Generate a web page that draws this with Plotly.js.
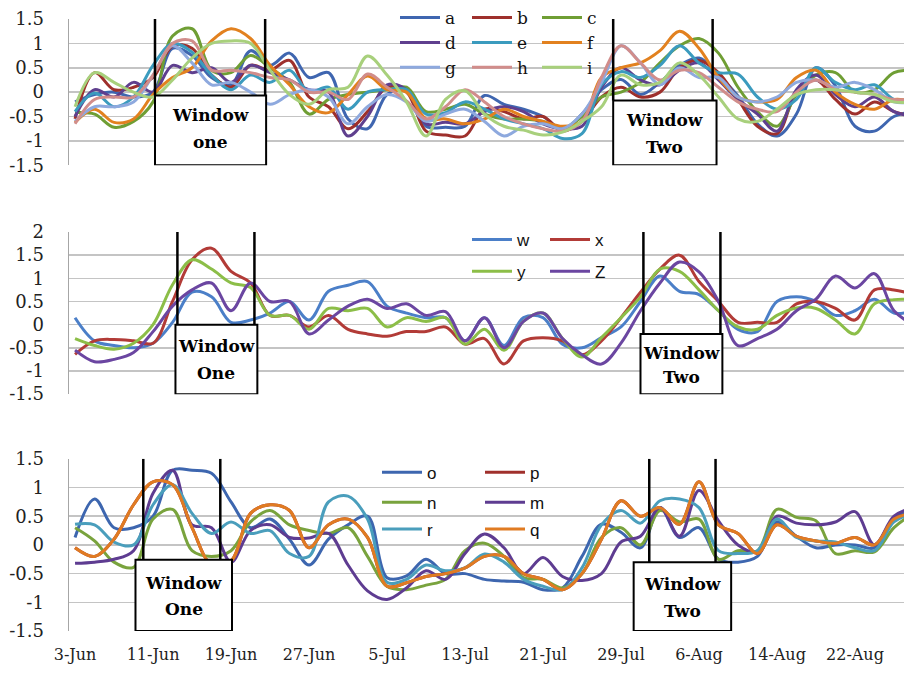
<!DOCTYPE html>
<html>
<head>
<meta charset="utf-8">
<script src="https://cdn.plot.ly/plotly-3.0.1.min.js"></script>
<style>html,body{margin:0;padding:0;background:#fff;}#chart{width:904px;height:674px;}</style>
</head>
<body>
<div id="chart"></div>
<script>
// ---- data ----
const dates = ['2013-06-03','2013-06-05','2013-06-07','2013-06-09','2013-06-11','2013-06-13','2013-06-15','2013-06-17','2013-06-19','2013-06-21','2013-06-23','2013-06-25','2013-06-27','2013-06-29',
'2013-07-01','2013-07-03','2013-07-05','2013-07-07','2013-07-09','2013-07-11','2013-07-13','2013-07-15','2013-07-17','2013-07-19','2013-07-21','2013-07-23','2013-07-25','2013-07-27','2013-07-29','2013-07-31',
'2013-08-02','2013-08-04','2013-08-06','2013-08-08','2013-08-10','2013-08-12','2013-08-14','2013-08-16','2013-08-18','2013-08-20','2013-08-22','2013-08-24','2013-08-26','2013-08-28'];

const tickDates = ['2013-06-03','2013-06-11','2013-06-19','2013-06-27','2013-07-05','2013-07-13','2013-07-21','2013-07-29','2013-08-06','2013-08-14','2013-08-22'];
const tickLabels = ['3-Jun','11-Jun','19-Jun','27-Jun','5-Jul','13-Jul','21-Jul','29-Jul','6-Aug','14-Aug','22-Aug'];
const yTicks15 = [-1.5,-1,-0.5,0,0.5,1,1.5];
const yLabels15 = ['-1.5','-1','-0.5','0','0.5','1','1.5'];
const yTicks2 = [-1.5,-1,-0.5,0,0.5,1,1.5,2];
const yLabels2 = ['-1.5','-1','-0.5','0','0.5','1','1.5','2'];

// top panel
const a = [-0.2,-0.05,0.0,-0.1,0.0,0.9,0.75,0.3,0.15,0.85,0.55,0.8,0.3,0.4,-0.55,-0.75,-0.05,0.05,-0.7,-0.72,-0.7,-0.07,-0.25,-0.35,-0.5,-0.76,-0.45,0.05,0.26,-0.05,0.2,0.55,0.7,0.35,-0.08,-0.65,-0.9,-0.45,0.5,0.13,-0.7,-0.8,-0.5,-0.4];
const b = [-0.55,0.4,0.05,0.1,0.3,0.95,0.9,0.35,0.1,0.55,0.45,0.65,-0.1,-0.3,-0.75,-0.4,0.1,0.0,-0.8,-0.88,-0.9,-0.35,-0.4,-0.55,-0.5,-0.8,-0.6,-0.1,0.1,-0.1,0.0,0.5,0.65,0.4,-0.15,-0.7,-0.85,0.0,0.25,-0.15,-0.45,-0.2,-0.4,-0.5];
const c = [-0.42,-0.45,-0.72,-0.6,-0.2,1.15,1.3,0.45,0.4,0.75,0.5,0.2,-0.45,-0.15,-0.05,0.0,0.05,0.1,-0.4,-0.35,-0.25,-0.45,-0.55,-0.55,-0.6,-0.75,-0.5,-0.1,0.0,0.2,0.6,0.95,1.1,0.8,0.1,-0.4,-0.7,-0.05,0.35,0.4,0.0,0.05,0.4,0.45];
const d = [-0.5,0.05,-0.1,0.2,0.0,0.55,0.4,0.5,0.2,0.55,0.4,0.25,0.05,0.0,-0.9,-0.5,0.15,0.05,-0.65,-0.62,-0.65,-0.4,-0.3,-0.4,-0.65,-0.75,-0.7,0.1,0.5,0.25,0.15,0.45,0.6,0.25,-0.15,-0.45,-0.8,0.05,0.35,-0.05,-0.3,-0.1,-0.4,-0.5];
const e = [-0.4,-0.02,-0.3,-0.1,0.55,1.0,0.82,0.35,0.05,0.35,0.2,0.45,0.0,0.1,-0.35,0.0,0.05,0.05,-0.45,-0.42,-0.2,-0.35,-0.55,-0.65,-0.75,-0.95,-0.85,0.15,0.42,0.3,0.55,0.95,0.6,0.4,0.37,-0.1,-0.35,-0.15,0.5,0.2,0.05,0.15,-0.15,-0.2];
const f = [-0.62,-0.35,-0.62,-0.55,-0.05,0.3,0.5,1.05,1.3,1.1,0.55,0.15,-0.3,-0.42,-0.05,0.33,0.05,0.0,-0.55,-0.55,-0.65,-0.55,-0.35,-0.5,-0.6,-0.7,-0.6,0.3,0.5,0.6,0.85,1.25,0.9,0.3,-0.1,-0.2,-0.15,0.3,0.45,0.0,-0.25,-0.35,-0.15,-0.2];
const g = [-0.6,-0.3,-0.3,-0.2,0.35,0.95,0.6,0.15,0.2,0.0,-0.25,-0.05,0.05,-0.1,-0.65,-0.3,-0.05,-0.2,-0.6,-0.45,-0.35,-0.6,-0.9,-0.7,-0.65,-0.75,-0.45,0.2,0.95,0.6,0.15,0.5,0.3,0.3,-0.1,-0.2,-0.1,0.2,0.25,0.1,0.2,0.05,-0.2,-0.2];
const h = [-0.65,-0.15,-0.1,-0.1,0.35,1.0,1.05,0.45,0.45,0.4,0.3,0.25,0.0,0.0,-0.15,0.37,0.1,-0.18,-0.55,-0.3,0.05,-0.2,-0.5,-0.65,-0.75,-0.8,-0.6,0.3,0.95,0.6,0.25,0.45,0.4,0.1,-0.2,-0.35,-0.4,0.0,0.25,0.05,0.0,-0.05,-0.15,-0.15];
const i = [-0.3,0.4,0.2,0.0,-0.1,0.25,0.7,1.0,1.05,1.0,0.45,-0.05,-0.25,0.05,0.1,0.74,0.35,-0.2,-0.9,-0.15,0.03,-0.45,-0.7,-0.78,-0.88,-0.82,-0.6,-0.3,0.35,0.15,0.2,0.6,0.35,-0.1,-0.55,-0.6,-0.35,-0.05,0.05,0.05,0.0,-0.05,-0.2,-0.2];

// middle panel
const w = [0.15,-0.35,-0.45,-0.5,-0.4,0.05,0.7,0.6,0.05,0.1,0.25,0.5,0.1,0.72,0.85,0.93,0.4,0.25,0.15,0.15,-0.35,0.15,-0.45,0.15,0.15,-0.42,-0.5,-0.28,-0.05,0.5,1.05,0.72,0.65,0.3,-0.1,-0.15,0.5,0.6,0.5,0.2,0.3,0.55,0.25,0.3];
const x = [-0.64,-0.35,-0.32,-0.35,-0.4,0.5,1.4,1.65,1.15,0.9,0.2,0.2,-0.05,0.2,-0.1,-0.2,-0.25,-0.15,-0.15,-0.05,-0.42,-0.3,-0.85,-0.35,-0.28,-0.35,-0.65,-0.35,0.15,0.7,1.2,1.5,0.93,0.5,0.05,0.05,0.05,0.45,0.5,0.35,0.1,0.75,0.75,0.65];
const y = [-0.3,-0.45,-0.53,-0.4,0.0,0.86,1.4,1.2,0.9,0.8,0.2,0.2,-0.1,0.35,0.3,0.35,-0.05,0.15,0.07,0.15,-0.42,-0.1,-0.55,0.07,0.25,-0.3,-0.7,-0.28,0.15,0.6,1.2,1.15,0.75,0.3,-0.05,-0.1,0.2,0.36,0.35,0.1,-0.2,0.45,0.54,0.54];
const Z = [-0.55,-0.8,-0.75,-0.6,-0.15,0.4,0.75,0.9,0.3,0.9,0.5,0.5,-0.2,0.1,0.4,0.55,0.35,0.45,0.2,0.28,-0.35,0.15,-0.5,0.07,0.25,-0.3,-0.65,-0.85,-0.4,0.3,0.9,1.35,1.14,0.5,-0.45,-0.3,-0.1,0.3,0.55,1.05,0.79,1.1,0.3,0.0];

// bottom panel
const o = [0.13,0.8,0.3,0.3,0.5,1.3,1.3,1.25,0.75,0.3,0.45,0.1,-0.35,0.1,0.35,0.5,-0.57,-0.54,-0.25,-0.5,-0.5,-0.6,-0.63,-0.65,-0.78,-0.75,-0.2,0.36,0.22,-0.05,0.65,0.13,0.3,-0.25,-0.3,-0.2,0.4,0.15,-0.05,0.0,0.0,-0.05,0.45,0.65];
const p = [-0.05,-0.2,0.1,0.7,1.1,1.05,0.3,-0.34,-0.28,0.55,0.7,0.6,-0.05,0.35,0.45,0.13,-0.72,-0.66,-0.55,-0.5,-0.4,-0.2,-0.2,-0.5,-0.6,-0.78,-0.5,0.1,0.77,0.5,0.65,0.36,1.1,0.35,0.2,-0.15,0.35,0.15,0.07,0.03,0.13,0.0,0.45,0.55];
const n = [0.3,0.07,-0.3,-0.39,0.45,0.62,-0.1,-0.2,-0.1,0.4,0.6,0.35,0.25,0.2,0.3,-0.2,-0.72,-0.78,-0.7,-0.6,-0.1,0.03,-0.2,-0.57,-0.6,-0.75,-0.5,0.13,0.3,0.0,0.6,0.4,0.45,-0.25,-0.1,-0.1,0.62,0.48,0.42,-0.15,-0.1,-0.12,0.3,0.55];
const m = [-0.32,-0.3,-0.25,-0.1,0.9,1.3,0.35,0.3,-0.3,0.25,0.35,0.13,0.12,0.2,-0.35,-0.8,-0.95,-0.75,-0.45,-0.6,-0.15,0.19,-0.05,-0.5,-0.22,-0.55,-0.62,-0.5,0.05,0.15,0.65,0.15,0.95,0.42,0.0,-0.12,0.5,0.38,0.35,0.4,0.58,0.0,0.5,0.65];
const r = [0.36,0.35,0.05,0.0,0.7,1.05,0.55,0.2,0.4,0.2,0.25,-0.15,-0.2,0.75,0.85,0.45,-0.65,-0.6,-0.35,-0.45,-0.4,-0.16,-0.3,-0.6,-0.72,-0.78,-0.4,0.35,0.6,0.38,0.77,0.8,0.65,-0.1,-0.15,-0.1,0.45,0.13,0.07,0.05,-0.05,-0.1,0.4,0.55];
const q = [-0.05,-0.2,0.1,0.7,1.1,1.05,0.3,-0.34,-0.28,0.55,0.7,0.6,-0.05,0.35,0.45,0.13,-0.72,-0.66,-0.55,-0.5,-0.4,-0.2,-0.2,-0.5,-0.6,-0.78,-0.5,0.1,0.77,0.5,0.65,0.36,1.1,0.35,0.2,-0.15,0.35,0.15,0.07,0.03,0.13,0.0,0.45,0.55];

// ---- styling ----
const SERIF = '"DejaVu Serif", "Liberation Serif", serif';
const SANS = '"Liberation Sans", Arial, sans-serif';

function dayPos(dd){
  const t = Date.UTC(2013,5,3) + dd*86400000;
  return new Date(t).toISOString().slice(0,19).replace('T',' ');
}

// one legend box per series so each entry sits where the reference puts it
const legendDefs = {};
let legCount = 0;
function tr(name, vals, color, yax, lx, ly, fam){
  legCount += 1;
  const key = legCount === 1 ? 'legend' : 'legend' + legCount;
  legendDefs[key] = {x:(lx - 74)/835, y:(631 - ly)/615, xanchor:'left', yanchor:'middle',
    orientation:'h', bgcolor:'rgba(0,0,0,0)', borderwidth:0, itemwidth:40,
    font:{family: fam, size:17, color:'#111'}};
  return {x: dates, y: vals, name: name, type:'scatter', mode:'lines', xaxis:'x', yaxis: yax,
    legend: key, hoverinfo:'skip',
    line:{color: color, width: 3, shape:'spline', smoothing: 1}};
}

const data = [
  tr('a', a, '#3F66B0', 'y', 400, 15, SERIF),
  tr('b', b, '#9E302C', 'y', 472, 15, SERIF),
  tr('c', c, '#6F9E34', 'y', 542, 15, SERIF),
  tr('d', d, '#5F3F8E', 'y', 400, 40, SERIF),
  tr('e', e, '#3B9BBE', 'y', 472, 40, SERIF),
  tr('f', f, '#E2811F', 'y', 542, 40, SERIF),
  tr('g', g, '#8EA9DE', 'y', 400, 65, SERIF),
  tr('h', h, '#D18D8B', 'y', 472, 65, SERIF),
  tr('i', i, '#A8D07C', 'y', 542, 65, SERIF),
  tr('w', w, '#4B7FC8', 'y2', 472, 238, SANS),
  tr('x', x, '#B23B37', 'y2', 550, 238, SANS),
  tr('y', y, '#8CBE48', 'y2', 472, 270, SANS),
  tr('Z', Z, '#6B46A1', 'y2', 550, 270, SANS),
  tr('o', o, '#3D66AF', 'y3', 382, 472, SANS),
  tr('p', p, '#A0302C', 'y3', 485, 472, SANS),
  tr('n', n, '#79A33D', 'y3', 382, 502, SANS),
  tr('m', m, '#5E3C91', 'y3', 485, 502, SANS),
  tr('r', r, '#4A9EBC', 'y3', 382, 529, SANS),
  tr('q', q, '#E07B22', 'y3', 485, 529, SANS)
];

function yax(domain, range, tv, tt){
  return {domain: domain, range: range, tickvals: tv, ticktext: tt, anchor:'x',
    showgrid:true, gridcolor:'#C4C4C4', gridwidth:1.5, zeroline:false,
    showline:true, linecolor:'#A6A6A6', linewidth:1.5, ticks:'', ticklabelstandoff: 20,
    tickfont:{family: SERIF, size:18, color:'#222'}, fixedrange:true};
}

// window frames
const shapes = [];
const annotations = [];
function win(yref, top, l1, l2, bx0, bx1, by0, by1, word2, t1, t2){
  shapes.push({type:'line', xref:'x', yref:yref, x0:dayPos(l1), x1:dayPos(l1), y0:top, y1:by0, line:{color:'#000', width:2.5}, layer:'above'});
  shapes.push({type:'line', xref:'x', yref:yref, x0:dayPos(l2), x1:dayPos(l2), y0:top, y1:by0, line:{color:'#000', width:2.5}, layer:'above'});
  shapes.push({type:'rect', xref:'x', yref:yref, x0:dayPos(bx0), x1:dayPos(bx1), y0:by0, y1:by1, fillcolor:'#fff', line:{color:'#000', width:2}, layer:'above'});
  const cx = dayPos((bx0+bx1)/2);
  annotations.push({xref:'x', yref:yref, x:cx, y:t1, text:'<b>Window</b>', showarrow:false, font:{family:SERIF, size:17, color:'#000'}});
  annotations.push({xref:'x', yref:yref, x:cx, y:t2, text:'<b>'+word2+'</b>', showarrow:false, font:{family:SERIF, size:17, color:'#000'}});
}
win('y', 1.5, 8.2, 19.5, 8.2, 19.6, -0.07, -1.5, 'one', -0.46, -1.03);
win('y', 1.5, 55.2, 65.4, 55.2, 65.8, -0.17, -1.5, 'Two', -0.58, -1.13);
win('y2', 2, 10.5, 18.4, 10.3, 18.7, 0, -1.5, 'One', -0.46, -1.04);
win('y2', 2, 58.3, 66.2, 58.0, 66.4, -0.2, -1.5, 'Two', -0.61, -1.14);
win('y3', 1.5, 7.0, 14.9, 6.2, 16.1, -0.26, -1.5, 'One', -0.66, -1.11);
win('y3', 1.5, 58.9, 65.7, 57.3, 67.3, -0.3, -1.5, 'Two', -0.68, -1.15);

const layout = Object.assign({
  width: 904, height: 674,
  margin: {l:69, r:0, t:16, b:43, pad:0},
  paper_bgcolor:'#fff', plot_bgcolor:'#fff',
  showlegend: true,
  xaxis: {type:'date', anchor:'y3', range:[dayPos(-0.62), dayPos(85.03)],
    tickvals: tickDates, ticktext: tickLabels, showgrid:false, showline:false, zeroline:false,
    ticks:'', ticklabelstandoff: 12, tickfont:{family: SERIF, size:16, color:'#222'}, fixedrange:true},
  yaxis: yax([0.761, 1.0], [-1.5, 1.5], yTicks15, yLabels15),
  yaxis2: yax([0.387, 0.652], [-1.5, 2], yTicks2, yLabels2),
  yaxis3: yax([0, 0.2813], [-1.5, 1.5], yTicks15, yLabels15),
  shapes: shapes,
  annotations: annotations
}, legendDefs);

Plotly.newPlot('chart', data, layout, {displayModeBar:false, staticPlot:true});
</script>
</body>
</html>
